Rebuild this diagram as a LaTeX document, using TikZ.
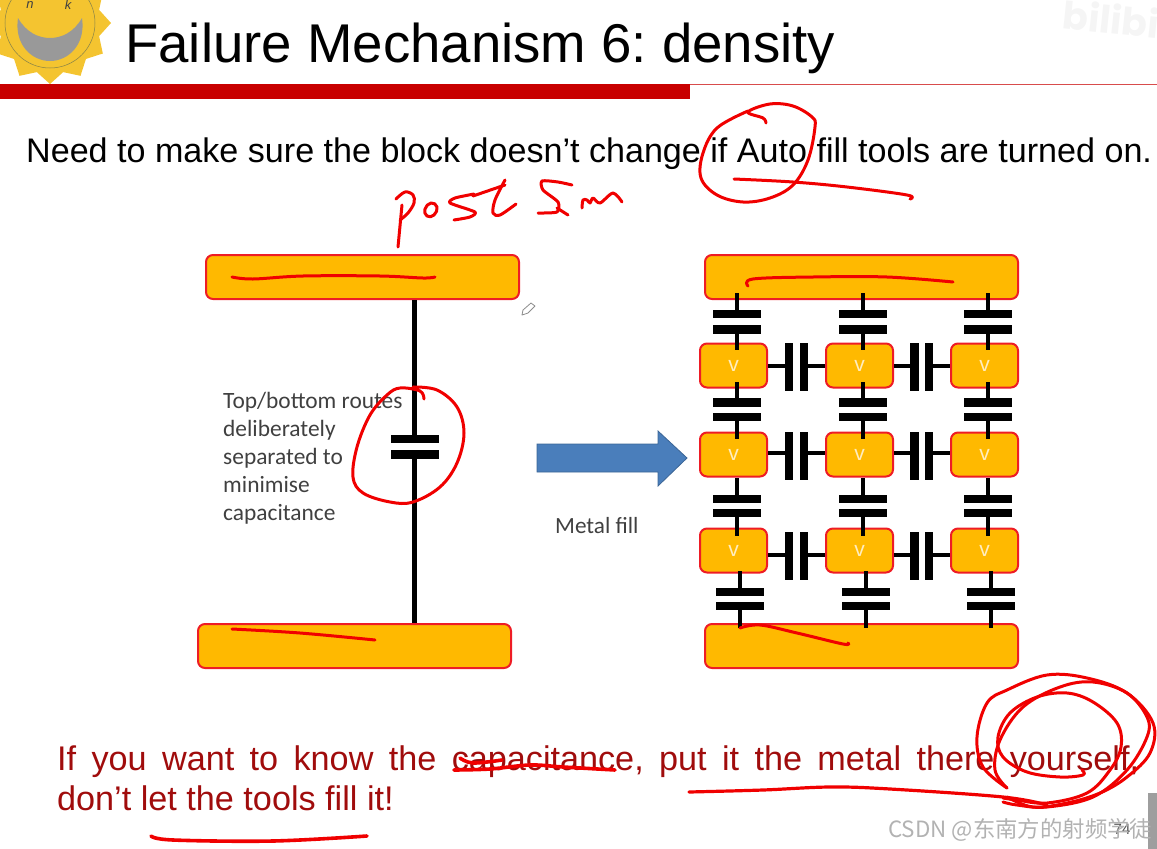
\documentclass[tikz,border=0pt]{standalone}
\usepackage{fontspec}
\setmainfont{Liberation Sans}
\newfontfamily\bodyfont{Carlito}
\newfontfamily\cjkfont{Noto Sans CJK SC}
\usetikzlibrary{shapes.geometric}
\frenchspacing
\definecolor{fillorange}{HTML}{FFB900}
\definecolor{edgered}{HTML}{EE1C25}
\definecolor{inkred}{HTML}{F00000}
\definecolor{slidered}{HTML}{C80000}
\definecolor{textred}{HTML}{A00C0C}
\definecolor{arrowblue}{HTML}{4A7EBB}
\definecolor{sunyellow}{HTML}{F4C430}
\definecolor{vtext}{HTML}{FFEDC0}
\tikzset{
  bar/.style={draw=edgered,fill=fillorange,line width=2pt,rounded corners=7pt,minimum width=313pt,minimum height=44pt,inner sep=0pt},
  fillbox/.style={draw=edgered,fill=fillorange,line width=2pt,rounded corners=7pt,minimum width=67pt,minimum height=44pt,inner sep=0pt,text=vtext,font=\fontsize{21}{21}\selectfont},
  hplate/.style={fill=black,inner sep=0pt,minimum width=48pt,minimum height=8.5pt},
  vplate/.style={fill=black,inner sep=0pt,minimum width=8.5pt,minimum height=48pt},
  wire/.style={line width=4.8pt,black},
  ink/.style={inkred,line width=3pt,line cap=round,line join=round},
}
\begin{document}
\begin{tikzpicture}[x=1pt,y=-1pt]
  \useasboundingbox (0,0) rectangle (1157,849);
  % watermark and header
  \node[rotate=-6,anchor=base west,text=black!4,font=\fontspec{Poppins}\bfseries\fontsize{38}{38}\selectfont] (mark) at (1058,28) {bilibi};
  \node[star,star points=12,star point ratio=1.2,fill=sunyellow,minimum size=122pt,inner sep=0pt] (sun) at (50,23) {};
  \draw[black!55!yellow,line width=.5pt] (sun.center) circle[radius=45pt];
  \fill[black!40] (18,18) .. controls (14,45) and (32,61) .. (50,61) .. controls (68,61) and (86,45) .. (82,18) .. controls (74,32) and (62,38) .. (50,38) .. controls (38,38) and (26,32) .. (18,18);
  \node[font=\itshape\fontsize{13}{13}\selectfont,text=black!75] (eyeL) at (30,5) {n};
  \node[font=\itshape\fontsize{13}{13}\selectfont,text=black!75] (eyeR) at (68,5) {k};
  \node[anchor=base west,inner sep=0pt,font=\fontsize{54.6}{60}\selectfont] (title) at (125,62) {Failure Mechanism 6: density};
  \fill[slidered] (0,84) rectangle (690,98.5);
  \draw[slidered!70,line width=1pt] (690,84.5) -- (1157,84.5);
  \node[anchor=base west,inner sep=0pt,font=\fontsize{34.1}{40}\selectfont] (need) at (26,162) {Need to make sure the block doesn’t change if Auto fill tools are turned on.};

  % left routes
  \node[bar] (topL) at (362.5,277) {};
  \node[bar] (botL) at (354.5,646) {};
  \node[hplate] (capLa) at (414.5,439) {};
  \node[hplate] (capLb) at (414.5,454.5) {};
  \draw[wire] (capLa) -- (capLa |- topL.south);
  \draw[wire] (capLb) -- (capLb |- botL.north);
  \node[anchor=north west,inner sep=0pt,align=left,text=black!75,font=\bodyfont\fontsize{23.4}{28}\selectfont] (routes) at (223,392)
    {Top/bottom routes\\deliberately\\separated to\\minimise\\capacitance};

  % arrow
  \filldraw[fill=arrowblue,draw=arrowblue!80!black,line width=.8pt] (537,444) -- (658,444) -- (658,431) -- (687,458) -- (658,486) -- (658,472) -- (537,472) -- cycle;
  \node[anchor=base west,inner sep=0pt,text=black!75,font=\bodyfont\fontsize{23.2}{24}\selectfont] (metal) at (555,533) {Metal fill};

  % right side, bars and fill
  \node[bar] (top) at (861.5,277) {};
  \node[bar] (bot) at (861.5,646) {};
  \foreach \r/\y in {1/365.5,2/454.5,3/550.5}
    \foreach \c/\x in {1/733.5,2/859.5,3/984.5}
      \node[fillbox] (r\r c\c) at (\x,\y) {\raisebox{-2pt}{v}};
  \foreach \c/\x/\xb in {1/737/740,2/863/866,3/988/991}
    \foreach \k/\px/\ya/\yb/\up/\dn/\du/\dd in {a/\x/314/329.5/top/r1c\c/-7pt/-7pt,b/\x/402.5/417/r1c\c/r2c\c/-7pt/-7pt,c/\x/499/513/r2c\c/r3c\c/0pt/-8pt,d/\xb/592/606/r3c\c/bot/-3pt/-5pt} {
      \node[hplate] (v\k\c a) at (\px,\ya) {};
      \node[hplate] (v\k\c b) at (\px,\yb) {};
      \draw[wire,shorten >=\du] (v\k\c a) -- (v\k\c a |- \up.south);
      \draw[wire,shorten >=\dd] (v\k\c b) -- (v\k\c b |- \dn.north);
    }
  \foreach \r/\y/\yp in {1/366/367,2/453/455.5,3/555/556}
    \foreach \k/\xa/\xb/\lf/\rt in {1/789/804/1/2,2/914.5/929/2/3} {
      \node[vplate] (h\r\k a) at (\xa,\yp) {};
      \node[vplate] (h\r\k b) at (\xb,\yp) {};
      \draw[wire] (\xa,\y) -- (r\r c\lf.east |- 0,\y);
      \draw[wire] (\xb,\y) -- (r\r c\rt.west |- 0,\y);
    }

  % message
  \node[anchor=north west,inner sep=0pt,text width=1082pt,align=justify,text=textred,font=\fontsize{34.2}{40}\selectfont] (msg) at (57,746)
    {If you want to know the capacitance, put it the metal there yourself,\linebreak don’t let the tools fill it!};

  % pen strokes
  \draw[ink] plot[smooth,tension=.6] coordinates {(766,123) (763,118) (748,112) (770,104) (793,106) (812,117) (815,127) (808,160) (793,185) (770,198) (743,202) (717,195) (701,178) (703,153) (717,128) (748,111)};
  \draw[ink] plot[smooth,tension=.6] coordinates {(734,179) (793,182) (847,187) (907,195) (910,199)};
  \draw[ink] (398,247) -- (402,205);
  \draw[ink] plot[smooth,tension=.6] coordinates {(396,199) (405,192) (413,195) (414,203) (408,213) (400,220)};
  \draw[ink] plot[smooth cycle,tension=.8] coordinates {(431,203) (437,207) (434,215) (427,216) (425,209)};
  \draw[ink] plot[smooth,tension=.4] coordinates {(474,194) (455,198) (450,203) (475,212) (470,217) (454,220)};
  \draw[ink] plot[smooth,tension=.5] coordinates {(505,180) (495,200) (493,213) (500,215) (516,204)};
  \draw[ink] (473,196) -- (505,185);
  \draw[ink] plot[smooth,tension=.4] coordinates {(572,185) (558,182) (542,181) (543,190) (558,202) (557,212) (538,213)};
  \draw[ink] (557,208) -- (568,215);
  \draw[ink] plot[smooth,tension=.5] coordinates {(582,208) (583,200) (587,200) (590,203) (593,198) (600,203) (613,193) (622,202)};
  \draw[ink] plot[smooth,tension=.6] coordinates {(424,399) (420,391) (400,388) (387,395) (370,415) (357,447) (353,477) (363,493) (390,502) (413,502) (440,487) (457,463) (464,433) (457,407) (437,390) (413,387)};
  \draw[ink] plot[smooth,tension=.6] coordinates {(232,277) (253,279) (303,276) (380,276) (423,278) (435,277)};
  \draw[ink] plot[smooth,tension=.6] coordinates {(232,629) (300,633) (375,640)};
  \draw[ink] plot[smooth,tension=.6] coordinates {(748,286) (753,279) (813,277) (887,277) (953,282)};
  \draw[ink] plot[smooth,tension=.6] coordinates {(740,628) (760,625) (797,633) (843,644) (848,643)};
  \draw[ink,line width=3.6pt] plot[smooth,tension=.6] coordinates {(151,836) (173,840) (273,841) (367,836)};
  \draw[ink,line width=3.6pt] plot[smooth,tension=.6] coordinates {(460,758) (473,763) (502,760)};
  \draw[ink,line width=3.6pt] plot[smooth,tension=.6] coordinates {(454,770) (490,769) (530,765) (563,767) (615,770)};
  \draw[ink,line width=3.2pt] plot[smooth,tension=.6] coordinates {(689,792) (763,790) (830,787) (890,789) (1003,797) (1047,805)};
  \draw[ink] plot[smooth,tension=.6] coordinates {(1082,770) (1083,775) (1060,777) (1027,772) (1003,757) (998,737) (1010,713) (1037,697) (1067,693) (1093,702) (1117,723) (1121,747) (1110,770) (1087,793) (1047,803) (1017,800) (1003,798)};
  \draw[ink] plot[smooth,tension=.6] coordinates {(1007,788) (995,770) (1000,740) (1023,707) (1060,687) (1093,682) (1127,693) (1147,717) (1147,737) (1127,770) (1093,797) (1047,807) (1017,805) (1003,802)};
  \draw[ink] plot[smooth,tension=.6] coordinates {(1007,788) (983,767) (977,737) (987,703) (1007,690) (1047,675) (1087,678) (1127,693) (1153,723) (1150,753) (1127,777) (1100,793) (1067,803) (1033,807) (1007,797)};

  % pencil cursor
  \draw[black!45,fill=white,line width=.8pt,line join=round] (522,315) -- (523,310) -- (531,303) -- (535,306) -- (528,313) -- cycle;

  % corner of the screen
  \fill[black!38] (1148,793) rectangle (1157,849);
  \node[inner sep=0pt,text=black!70,font=\fontsize{15}{15}\selectfont] (page) at (1122,829) {74};
  \node[anchor=base west,inner sep=0pt,text=black!30,font=\cjkfont\fontsize{22.4}{24}\selectfont] (csdn) at (888,837) {CSDN @东南方的射频学徒};
\end{tikzpicture}
\end{document}
